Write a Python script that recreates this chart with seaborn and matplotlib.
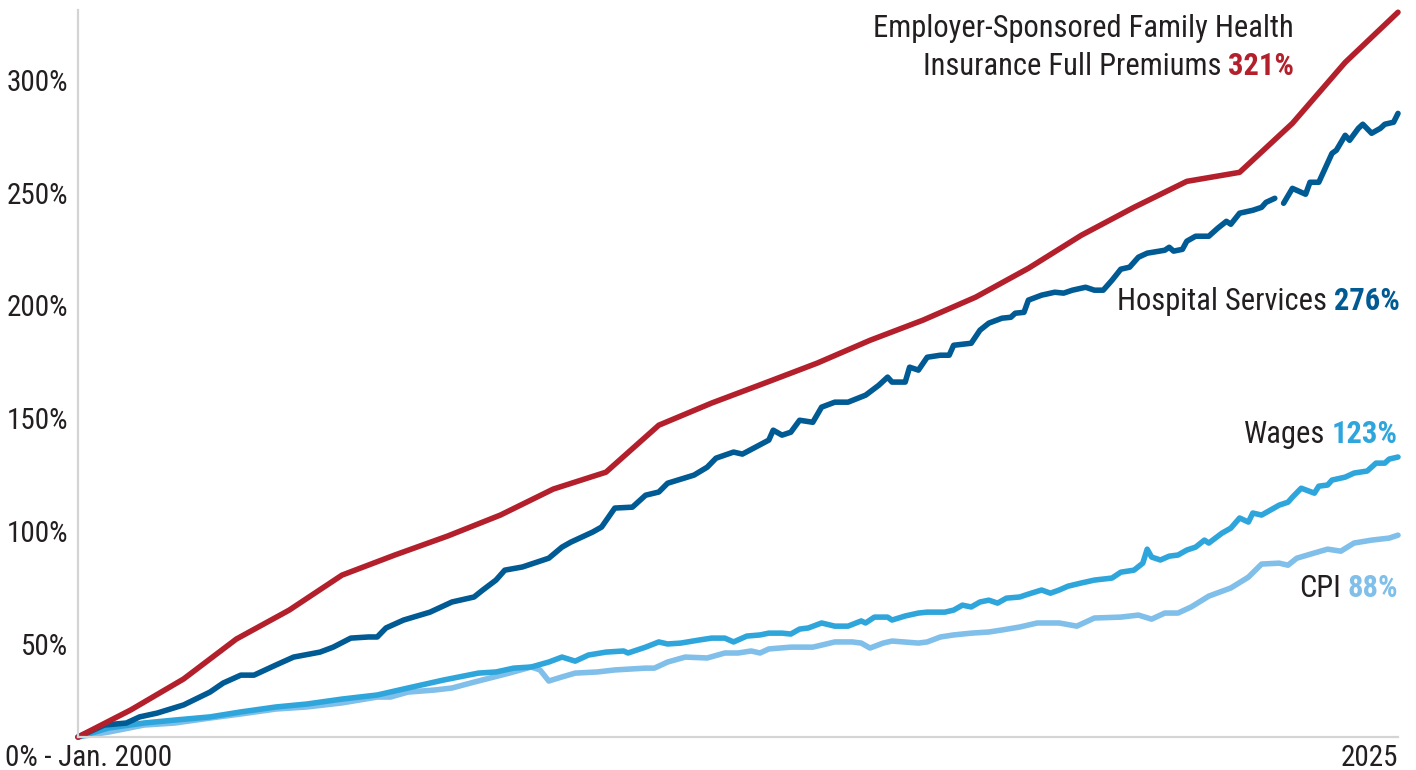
import numpy as np
import pandas as pd
import matplotlib
matplotlib.use("Agg")
import matplotlib.pyplot as plt
import seaborn as sns
from matplotlib import font_manager as fm
from matplotlib import transforms as mtrans

# ---------------- data (cumulative % change since Jan. 2000) ----------------
prem_year = [2000, 2001, 2002, 2003, 2004, 2005, 2006, 2007, 2008, 2009, 2010, 2011, 2012,
             2013, 2014, 2015, 2016, 2017, 2018, 2019, 2020, 2021, 2022, 2023, 2024, 2025]
prem_vals = [0, 12.0, 25.7, 43.4, 56.2, 71.7, 80.6, 89.0, 98.3, 109.8, 117.3, 138.1, 147.9,
             156.7, 165.6, 175.7, 184.6, 194.8, 207.6, 222.2, 234.6, 246.1, 250.1, 271.8, 298.8, 321.0]

# months since Jan. 2000
hosp_month = [0, 6, 11, 14, 18, 24, 30, 33, 37, 40, 45, 49, 55, 58, 62, 66, 68, 70, 74, 80,
              85, 90, 92, 95, 97, 101, 107, 110, 112, 117, 119, 122, 126, 129, 132, 134, 137, 140, 143, 145,
              149, 151, 154, 157, 158, 160, 162, 164, 167, 169, 172, 175, 179, 182, 184, 185, 188, 189, 191, 193,
              196, 198, 199, 203, 205, 207, 210, 212, 213, 215, 216, 219, 222, 224, 226, 229, 231, 233, 235, 237,
              239, 241, 243, 247, 248, 249, 251, 252, 254, 257, 259, 261, 262, 264, 267, 269, 270, 272, 273, 274,
              276, 279, 280, 282, 285, 286, 288, 289, 291, 292, 294, 296, 297, 299, 300]
hosp_vals = [0, 5.3, 6.2, 8.9, 10.6, 14.2, 19.9, 23.9, 27.4, 27.4, 31.9, 35.4, 37.6, 39.8, 43.8, 44.3, 44.3, 48.3, 51.8, 55.3,
             59.8, 62.0, 65.1, 69.5, 73.9, 75.3, 79.2, 84.1, 86.3, 90.8, 93.0, 101.4, 101.8, 107.1, 108.5, 112.4, 114.2, 116.0, 119.5, 123.5,
             126.2, 125.3, 128.4, 131.5, 135.9, 133.7, 135.0, 140.3, 139.4, 146.1, 148.3, 148.3, 151.4, 155.8, 159.4, 157.2, 157.2, 163.8, 162.5, 168.2,
             169.1, 169.1, 173.5, 174.4, 180.2, 183.3, 185.5, 185.9, 187.7, 188.1, 193.5, 195.7, 197.0, 196.6, 197.9, 199.2, 197.9, 197.9, 202.3, 207.2,
             208.1, 212.5, 214.3, 215.6, 216.9, 215.2, 216.0, 219.6, 221.8, 221.8, 225.3, 228.4, 227.1, 232.0, 233.3, 234.6, 236.8, 238.6, np.nan, 236.4,
             243.0, 240.4, 245.7, 245.7, 258.5, 259.9, 266.5, 264.3, 269.6, 271.4, 267.4, 269.6, 271.4, 272.3, 276.2]

wage_month = [0, 7, 15, 22, 30, 37, 45, 52, 60, 68, 75, 83, 91, 95, 99, 103, 107, 110, 113, 116,
              120, 124, 125, 129, 132, 134, 137, 141, 144, 147, 149, 152, 155, 157, 160, 162, 164, 166, 169, 172,
              175, 178, 179, 181, 184, 185, 188, 191, 193, 197, 199, 201, 203, 205, 207, 209, 211, 214, 216, 219,
              221, 223, 225, 228, 231, 235, 237, 240, 242, 243, 244, 246, 248, 250, 252, 254, 256, 257, 260, 262,
              264, 266, 267, 269, 273, 275, 276, 278, 281, 282, 284, 285, 288, 290, 293, 295, 297, 298, 300]
wage_vals = [0, 4.0, 6.2, 7.5, 8.9, 11.1, 13.3, 14.6, 16.8, 18.6, 21.7, 25.2, 28.3, 28.8, 30.5, 31.0, 33.2, 35.4, 33.6, 36.3,
             37.6, 38.1, 37.2, 39.8, 42.1, 41.2, 41.6, 42.9, 43.8, 43.8, 42.1, 44.7, 45.2, 46.0, 46.0, 45.6, 47.8, 48.3, 50.5, 49.1,
             49.1, 51.4, 50.5, 53.1, 53.1, 51.8, 53.6, 54.9, 55.3, 55.3, 56.2, 58.4, 57.6, 59.8, 60.6, 59.3, 61.5, 62.0, 63.3, 65.1,
             63.7, 65.1, 66.8, 68.2, 69.5, 70.4, 73.0, 73.9, 77.0, 83.2, 79.7, 78.4, 80.1, 80.6, 82.8, 84.1, 87.2, 85.9, 90.3, 92.5,
             97.0, 95.2, 99.2, 98.3, 102.7, 104.0, 106.2, 110.2, 108.0, 111.1, 111.6, 113.8, 115.1, 116.9, 117.8, 121.3, 121.3, 123.1, 124.0]

cpi_month = [0, 7, 15, 22, 30, 37, 45, 52, 60, 68, 71, 75, 81, 85, 90, 98, 103, 105, 107, 110,
             113, 118, 122, 129, 131, 134, 138, 143, 147, 150, 153, 155, 157, 162, 167, 169, 172, 176, 178, 180,
             183, 185, 191, 193, 196, 199, 203, 207, 210, 214, 218, 223, 227, 231, 237, 241, 244, 247, 250, 253,
             257, 262, 266, 269, 273, 275, 277, 281, 284, 287, 290, 294, 298, 300]
cpi_vals = [0, 2.2, 5.3, 6.2, 8.4, 10.2, 12.4, 13.3, 15.1, 17.7, 17.7, 19.9, 20.8, 21.7, 24.3, 28.3, 31.0, 29.7, 24.8, 26.6,
            28.3, 28.8, 29.7, 30.5, 30.5, 33.2, 35.4, 35.0, 37.2, 37.2, 38.1, 37.2, 39.0, 39.8, 39.8, 40.7, 42.1, 42.1, 41.6, 39.4,
            41.6, 42.5, 41.6, 42.1, 44.3, 45.2, 46.0, 46.5, 47.4, 48.7, 50.5, 50.5, 49.1, 52.7, 53.1, 54.0, 52.2, 54.9, 54.9, 57.6,
            62.4, 66.0, 70.8, 76.6, 77.0, 76.1, 79.2, 81.5, 83.2, 82.3, 85.9, 87.2, 88.1, 89.4]

y_ticks = [50, 100, 150, 200, 250, 300]
y_tick_labels = ["50%", "100%", "150%", "200%", "250%", "300%"]
x_tick_labels = ["0% - Jan. 2000", "2025"]

# ---------------- style ----------------
sns.set_theme(style="white")


def pick(names):
    for n in names:
        try:
            fm.findfont(fm.FontProperties(family=n), fallback_to_default=False)
            return n
        except Exception:
            pass
    return "DejaVu Sans"


FONT = pick(["Liberation Sans Narrow", "Roboto Condensed", "Open Sans Condensed",
             "DejaVu Sans Condensed", "Liberation Sans"])
plt.rcParams["font.family"] = [FONT, "DejaVu Sans"]

TXT = "#231F20"
C_PREM = "#B3202C"
C_HOSP = "#005A93"
C_WAGE = "#2EA6DC"
C_CPI = "#7FBFEA"

# ---------------- frame ----------------
def to_df(months, vals, name):
    d = pd.DataFrame({"x": 2000 + np.asarray(months, float) / 12.0,
                      "value": np.asarray(vals, float)})
    d["seg"] = d["value"].isna().cumsum()
    d = d.dropna()
    d["series"] = name
    return d


df = pd.concat([
    to_df(cpi_month, cpi_vals, "CPI"),
    to_df(wage_month, wage_vals, "Wages"),
    to_df(hosp_month, hosp_vals, "Hospital Services"),
    to_df([(y - 2000) * 12 for y in prem_year], prem_vals, "Premiums"),
], ignore_index=True)

W, H = 1416, 770
fig = plt.figure(figsize=(W / 100, H / 100), dpi=100)
ax = fig.add_axes([78 / W, 33 / H, 1320 / W, 727 / H])

colors = {"CPI": C_CPI, "Wages": C_WAGE, "Hospital Services": C_HOSP, "Premiums": C_PREM}
for name in ["CPI", "Wages", "Hospital Services", "Premiums"]:
    sub = df[df["series"] == name]
    sns.lineplot(data=sub, x="x", y="value", units="seg", estimator=None,
                 color=colors[name], linewidth=4.0, ax=ax, legend=False,
                 solid_capstyle="round", clip_on=False)

ax.set_xlim(2000, 2025)
ax.set_ylim(0, 322)
ax.set_xlabel("")
ax.set_ylabel("")

for s in ["top", "right"]:
    ax.spines[s].set_visible(False)
for s in ["left", "bottom"]:
    ax.spines[s].set_color("#D4D4D4")
    ax.spines[s].set_linewidth(1.6)

ax.set_yticks(y_ticks)
ax.set_yticklabels(y_tick_labels)
ax.set_xticks([2000, 2025])
ax.set_xticklabels(x_tick_labels)
ax.tick_params(axis="y", length=0, pad=7, labelsize=21, labelcolor=TXT)
ax.tick_params(axis="x", length=0, pad=5, labelsize=21, labelcolor=TXT)

# y labels sit slightly below their gridline value in the original
for lab in ax.get_yticklabels():
    lab.set_transform(lab.get_transform() +
                      mtrans.ScaledTranslation(0, -0.20, fig.dpi_scale_trans))
xl = ax.get_xticklabels()
xl[0].set_ha("center")
xl[0].set_transform(xl[0].get_transform() +
                    mtrans.ScaledTranslation(0.11, 0, fig.dpi_scale_trans))
xl[1].set_ha("right")

# ---------------- direct labels ----------------
FS = 22


def label(x_px, base_px, prefix, number, color):
    num = fig.text(x_px / W, 1 - base_px / H, number, ha="right", va="baseline",
                   fontsize=FS, fontweight="bold", color=color)
    ax.annotate(prefix, xy=(0, 0), xycoords=num, xytext=(-5, 0),
                textcoords="offset points", ha="right", va="bottom",
                fontsize=FS, color=TXT, annotation_clip=False)


fig.text(1294 / W, 1 - 37 / H, "Employer-Sponsored Family Health", ha="right",
         va="baseline", fontsize=FS, color=TXT)
label(1294, 75, "Insurance Full Premiums", "321%", C_PREM)
label(1400, 310, "Hospital Services", "276%", C_HOSP)
label(1398, 443, "Wages", "123%", C_WAGE)
label(1398, 597, "CPI", "88%", C_CPI)

fig.savefig("out.png", dpi=100)
